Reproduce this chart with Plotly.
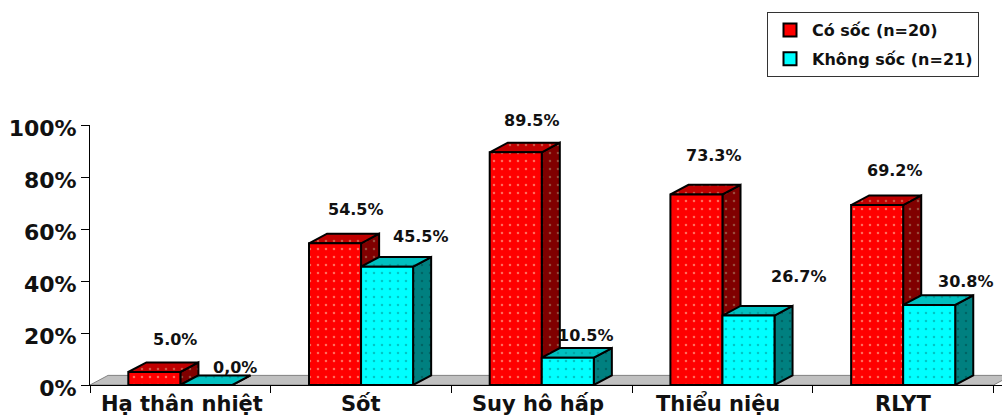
import plotly.graph_objects as go

# Chart data
categories = ["Hạ thân nhiệt", "Sốt", "Suy hô hấp", "Thiểu niệu", "RLYT"]
shock_name = "Có sốc (n=20)"
no_shock_name = "Không sốc (n=21)"
shock_values = [5.0, 54.5, 89.5, 73.3, 69.2]
no_shock_values = [0.0, 45.5, 10.5, 26.7, 30.8]
shock_labels = ["5.0%", "54.5%", "89.5%", "73.3%", "69.2%"]
no_shock_labels = ["0,0%", "45.5%", "10.5%", "26.7%", "30.8%"]
y_ticks = [0, 20, 40, 60, 80, 100]

# Pixel nudges of each value label from the top centre of its bar
shock_label_shift = [(21, 33), (21, 34), (16, 32), (18, 39), (18, 35)]
no_shock_label_shift = [(29, 18), (34, 30), (18, 22), (51, 39), (37, 23)]
category_label_shift = [2, 0, -4, -4, 0]

# Pseudo-3D box geometry, in axis units
BAR_W = 0.288
DEPTH_X = 0.1
DEPTH_Y = 3.7
X_MAX = 912 / 180.7


def faces(values, start_offset):
    """Return closed polygons for the front, top and side of each bar."""
    front, top, side = ([], []), ([], []), ([], [])
    for i, v in enumerate(values):
        x0 = i + 0.5 + start_offset
        x1 = x0 + BAR_W
        polys = [
            (front, [x0, x1, x1, x0, x0], [0, 0, v, v, 0]),
            (top, [x0, x1, x1 + DEPTH_X, x0 + DEPTH_X, x0],
             [v, v, v + DEPTH_Y, v + DEPTH_Y, v]),
            (side, [x1, x1 + DEPTH_X, x1 + DEPTH_X, x1, x1],
             [0, DEPTH_Y, v + DEPTH_Y, v, 0]),
        ]
        for target, xs, ys in polys:
            target[0].extend(xs + [None])
            target[1].extend(ys + [None])
    return front, top, side


def face_trace(poly, colour, dot):
    return go.Scatter(
        x=poly[0], y=poly[1], mode="lines", fill="toself",
        fillcolor=colour,
        fillpattern=dict(shape=".", bgcolor=colour, fgcolor=dot,
                         size=8, solidity=0.08),
        line=dict(color="black", width=2),
        hoverinfo="skip",
        showlegend=False,
    )


def legend_key(name, colour):
    # Marker-only trace with no data: it exists for its square legend key
    return go.Scatter(
        x=[None], y=[None], mode="markers", name=f"<b>{name}</b>",
        legendgroup=name,
        marker=dict(symbol="square", size=13, color=colour,
                    line=dict(color="black", width=2)),
    )


fig = go.Figure()

# Grey floor under the bars
fig.add_trace(go.Scatter(
    x=[0, DEPTH_X, len(categories) + DEPTH_X, len(categories), 0],
    y=[0, DEPTH_Y, DEPTH_Y, 0, 0],
    mode="lines", fill="toself", fillcolor="#C0C0C0",
    line=dict(color="#808080", width=1),
    hoverinfo="skip", showlegend=False,
))

red_front, red_top, red_side = faces(shock_values, -BAR_W)
cyan_front, cyan_top, cyan_side = faces(no_shock_values, 0)

fig.add_trace(face_trace(red_side, "#800000", "#B09878"))
fig.add_trace(face_trace(red_top, "#C00000", "#E0A888"))
fig.add_trace(face_trace(red_front, "#FF0000", "#FFD8B8"))
fig.add_trace(face_trace(cyan_side, "#008080", "#004848"))
fig.add_trace(face_trace(cyan_top, "#00C0C0", "#008888"))
fig.add_trace(face_trace(cyan_front, "#00FFFF", "#008C8C"))
fig.add_trace(legend_key(shock_name, "#FF0000"))
fig.add_trace(legend_key(no_shock_name, "#00FFFF"))

label_font = dict(family="DejaVu Sans", size=16, color="#111111", weight=700)
for i in range(len(categories)):
    centre = i + 0.5
    for x, v, text, (dx, dy) in (
        (centre - BAR_W / 2, shock_values[i], shock_labels[i], shock_label_shift[i]),
        (centre + BAR_W / 2, no_shock_values[i], no_shock_labels[i], no_shock_label_shift[i]),
    ):
        fig.add_annotation(x=x, y=v, text=text, showarrow=False, font=label_font,
                           xshift=dx, yshift=dy)
    # Bottom-anchored so that stacked diacritics do not move the baseline
    fig.add_annotation(x=centre, y=0, yanchor="bottom", yshift=-33,
                       xshift=category_label_shift[i], text=categories[i],
                       showarrow=False,
                       font=dict(family="DejaVu Sans", size=21, color="#111111", weight=700))

fig.update_layout(
    width=1002, height=419,
    margin=dict(l=90, r=0, t=125, b=34, autoexpand=False),
    paper_bgcolor="white", plot_bgcolor="white",
    xaxis=dict(range=[0, X_MAX], tickvals=list(range(len(categories) + 1)),
               showticklabels=False, ticks="outside", ticklen=7,
               showgrid=False, zeroline=False, showline=True,
               linecolor="black", linewidth=1, tickcolor="black"),
    yaxis=dict(range=[0, 100], tickvals=y_ticks,
               ticktext=[f"{t}%" for t in y_ticks],
               ticks="outside", ticklen=8, showgrid=False, zeroline=False,
               showline=True, linecolor="black", linewidth=1, tickcolor="black",
               automargin=False, ticklabelshift=3,
               tickfont=dict(family="DejaVu Sans", size=22, color="#111111", weight=700)),
    legend=dict(x=767 / 1002, y=1 - 12 / 419, xref="container", yref="container",
                xanchor="left", yanchor="top",
                bordercolor="#333333", borderwidth=1, bgcolor="white",
                itemwidth=34, tracegroupgap=5, entrywidth=166, entrywidthmode="pixels",
                font=dict(family="DejaVu Sans", size=16, color="#111111")),
    showlegend=True,
)

fig.write_html("out.html", config=dict(displayModeBar=False))
